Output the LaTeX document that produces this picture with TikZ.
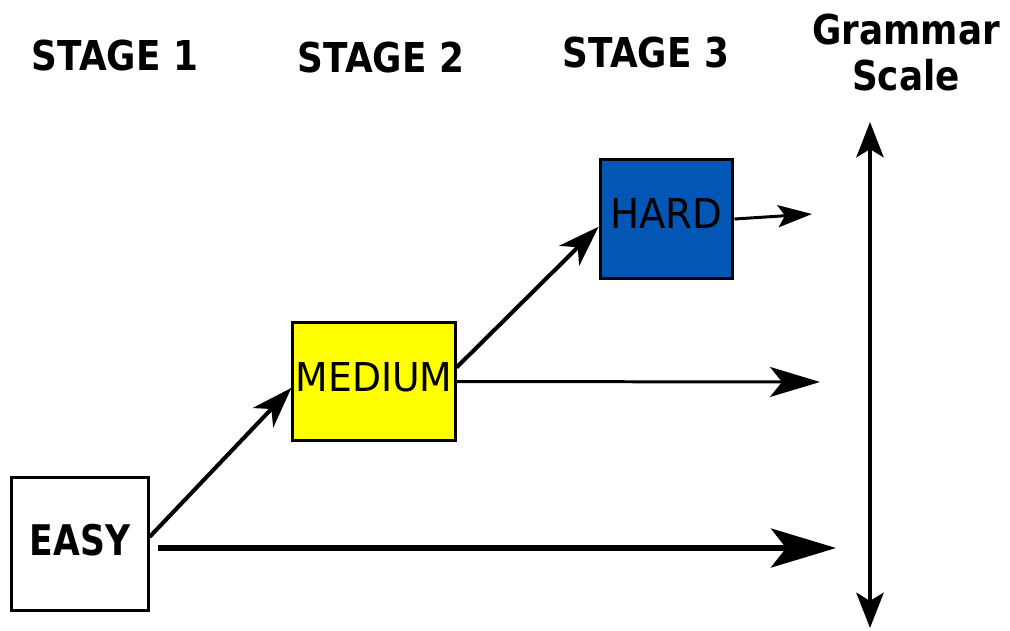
\documentclass[tikz,border=0pt]{standalone}
\usepackage{fontspec}
\setmainfont{DejaVu Sans}
\usetikzlibrary{arrows.meta}
\definecolor{hardblue}{RGB}{4,86,180}
\definecolor{medyellow}{RGB}{255,255,0}
\newcommand\bhead[1]{\scalebox{0.87}[1]{\bfseries #1}}
\begin{document}
\begin{tikzpicture}[x=0.01cm,y=-0.01cm,
  box/.style={draw, line width=0.85pt, inner sep=0pt, anchor=center},
  head/.style={anchor=base, inner sep=0pt, font=\fontsize{11.7}{14}\selectfont},
  conn/.style={line width=1.15pt, -{Stealth[length=11.7pt,width=8pt,inset=3.4pt]}},
]
\useasboundingbox (0,0) rectangle (1010,630);

% headings
\node[head] (s1) at (115,70) {\bhead{STAGE 1}};
\node[head] (s2) at (381,72) {\bhead{STAGE 2}};
\node[head] (s3) at (646,67) {\bhead{STAGE 3}};
\node[head] (g1) at (906,44) {\bhead{Grammar}};
\node[head] (g2) at (906,90) {\bhead{Scale}};

% boxes
\node[box, minimum width=38.7pt, minimum height=37.6pt, fill=white, text depth=2.3pt] (easy) at (80,544)
  {\scalebox{0.82}[1]{\fontsize{12}{14}\selectfont\bfseries EASY}};
\node[box, minimum width=46.1pt, minimum height=33.3pt, fill=medyellow, text depth=2.3pt] (medium) at (374,381.5)
  {\scalebox{0.95}[1]{\fontsize{11.3}{14}\selectfont MEDIUM}};
\node[box, minimum width=37.8pt, minimum height=33.6pt, fill=hardblue, text depth=3.4pt] (hard) at (666.5,219)
  {\scalebox{0.94}[1]{\fontsize{11.7}{14}\selectfont HARD}};

% free ends
\coordinate (t1) at (812,214);
\coordinate (t2) at (820,382);
\coordinate (t3) at (836,548);
\coordinate (vtop) at (870,122);
\coordinate (vbot) at (870,628);

% diagonal connectors
\draw[conn] ([yshift=2pt]easy.east) -- ([yshift=-1.8pt]medium.west);
\draw[conn] ([yshift=4pt]medium.east) -- ([yshift=-2.2pt]hard.west) ;

% horizontal connectors
\draw[line width=0.85pt, -{Stealth[length=9.7pt,width=6.3pt,inset=2pt]}] (hard.east) -- (t1);
\draw[line width=0.85pt, -{Stealth[length=14.2pt,width=8.5pt,inset=3.4pt]}] (medium.east) -- (t2);
\draw[line width=1.5pt, -{Stealth[length=18.5pt,width=11.1pt,inset=4.3pt]}, shorten <=2.5pt] (easy.east |- t3) -- (t3);

% grammar scale
\draw[line width=1.4pt, {Stealth[length=10pt,width=7.7pt,inset=2.3pt]}-{Stealth[length=10pt,width=7.7pt,inset=2.3pt]}] (vtop) -- (vbot);
\end{tikzpicture}
\end{document}
